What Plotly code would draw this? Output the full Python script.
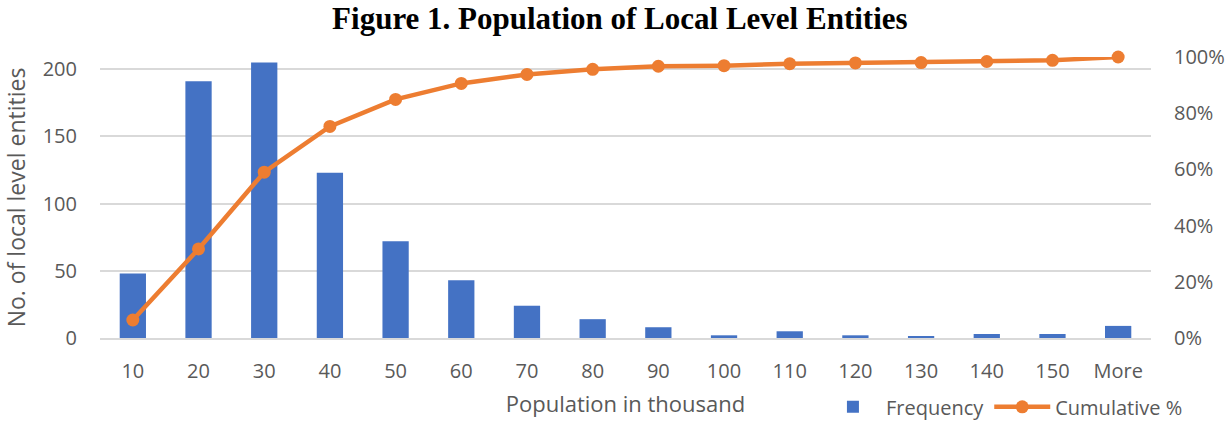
import plotly.graph_objects as go

categories = ["10", "20", "30", "40", "50", "60", "70", "80", "90", "100",
              "110", "120", "130", "140", "150", "More"]
frequency = [48, 191, 205, 123, 72, 43, 24, 14, 8, 2, 5, 2, 1, 3, 3, 9]
cumulative_pct = [6.4, 31.7, 59.0, 75.3, 84.9, 90.6, 93.8, 95.6, 96.7, 96.9,
                  97.6, 97.9, 98.0, 98.4, 98.8, 100.0]

BLUE = "#4472C4"
ORANGE = "#ED7D31"
GRAY = "#595959"
FONT = "Open Sans"

fig = go.Figure()
fig.add_trace(go.Bar(
    x=categories, y=frequency, name="Frequency",
    marker=dict(color=BLUE, line=dict(width=0)),
    yaxis="y",
))
fig.add_trace(go.Scatter(
    x=categories, y=[v / 100 for v in cumulative_pct], name="Cumulative %",
    mode="lines+markers",
    line=dict(color=ORANGE, width=4.5),
    marker=dict(color=ORANGE, size=13),
    yaxis="y2", cliponaxis=False,
))

fig.update_layout(
    width=1225, height=421,
    margin=dict(l=100, r=74, t=57, b=83, autoexpand=False),
    paper_bgcolor="white", plot_bgcolor="white",
    bargap=0.6,
    title=dict(text="<b>Figure 1. Population of Local Level Entities</b>",
               x=0.506, xanchor="center", y=0.957, yanchor="middle",
               font=dict(family="Liberation Serif", size=31, color="black")),
    font=dict(family=FONT, size=18, color=GRAY),
    xaxis=dict(
        title=dict(text="Population in thousand", font=dict(size=22, color=GRAY), standoff=14),
        range=[-0.5, len(categories) - 0.5],
        showgrid=False, showline=True, linecolor="#D9D9D9", linewidth=1.5,
        ticks="", ticklabelstandoff=14, tickfont=dict(size=20, color=GRAY),
        automargin=False,
    ),
    yaxis=dict(
        title=dict(text="No. of local level entities", font=dict(size=23, color=GRAY), standoff=11),
        range=[0, 209], tickvals=[0, 50, 100, 150, 200],
        showgrid=True, gridcolor="#D9D9D9", gridwidth=1.5,
        zeroline=False, showline=False, ticks="",
        ticklabelstandoff=22, tickfont=dict(size=20, color=GRAY),
        automargin=False,
    ),
    yaxis2=dict(
        overlaying="y", side="right", range=[0, 1.0],
        tickvals=[0, 0.2, 0.4, 0.6, 0.8, 1.0], tickformat=".0%",
        showgrid=False, zeroline=False, showline=False, ticks="",
        ticklabelstandoff=22, tickfont=dict(size=20, color=GRAY),
        automargin=False,
    ),
    legend=dict(orientation="h", x=0.685, xanchor="left", y=-0.245, yanchor="middle",
                font=dict(size=20, color=GRAY), bgcolor="rgba(0,0,0,0)",
                itemwidth=56, traceorder="normal", tracegroupgap=0),
)

fig.write_html("out.html")
